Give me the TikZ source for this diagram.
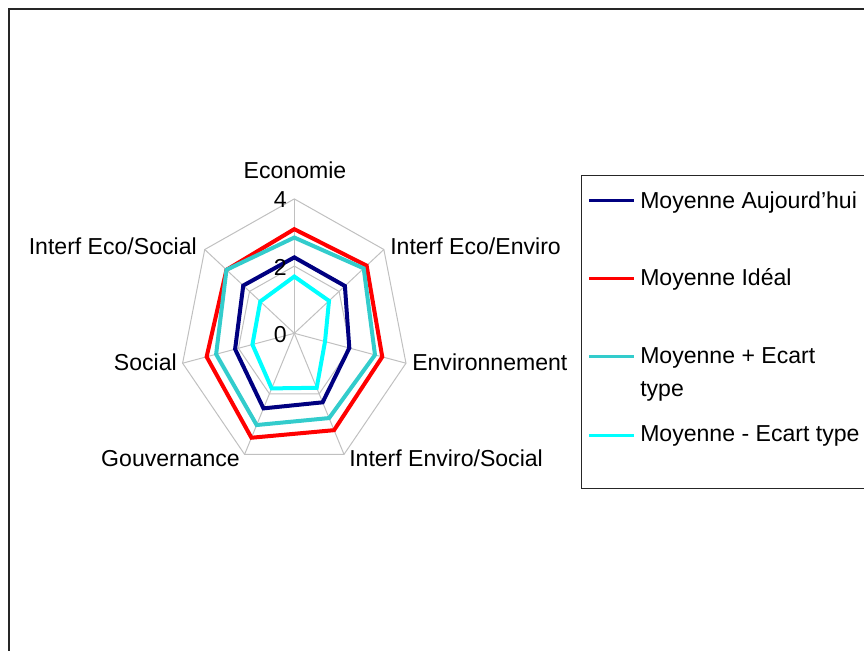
\documentclass[tikz,border=0pt]{standalone}
\usepackage{fontspec}
\setmainfont{Liberation Sans}
\definecolor{navyc}{RGB}{0,0,128}
\definecolor{redc}{RGB}{255,0,0}
\definecolor{tealc}{RGB}{51,204,204}
\definecolor{cyanc}{RGB}{0,255,255}
\definecolor{gridgray}{RGB}{192,192,192}
\begin{document}
\begin{tikzpicture}[x=0.75pt,y=-0.75pt,
  lbl/.style={font=\fontsize{17.3}{20}\selectfont, inner sep=0pt, text height=0.716em, text depth=0pt, yshift=-3pt},
  gridline/.style={draw=gridgray, line width=0.75pt},
  ser/.style={line width=3pt, line join=miter},
  legline/.style={line width=2.25pt}]
\useasboundingbox (0,0) rectangle (864,650);
% outer frame
\draw[line width=1.5pt, draw=black!85] (8.5,700) -- (8.5,8.5) -- (900,8.5);
% radar chart
\begin{scope}[shift={(294.3,333.3)}]
\begin{scope}[x=21.48pt, y=-25.2pt]
  \def\aA{-90}\def\aB{-38.571}\def\aC{12.857}\def\aD{64.286}\def\aE{115.714}\def\aF{167.143}\def\aG{218.571}
  \foreach \r in {2,4}
    \draw[gridline] (\aA:\r) -- (\aB:\r) -- (\aC:\r) -- (\aD:\r) -- (\aE:\r) -- (\aF:\r) -- (\aG:\r) -- cycle;
  \foreach \a in {\aA,\aB,\aC,\aD,\aE,\aF,\aG}
    \draw[gridline] (0,0) -- (\a:4);
  % series
  \draw[ser, navyc] (\aA:2.26) -- (\aB:2.26) -- (\aC:1.97) -- (\aD:2.28) -- (\aE:2.48) -- (\aF:2.12) -- (\aG:2.28) -- cycle;
  \draw[ser, redc] (\aA:3.1) -- (\aB:3.23) -- (\aC:3.15) -- (\aD:3.2) -- (\aE:3.45) -- (\aF:3.14) -- (\aG:3.03) -- cycle;
  \draw[ser, tealc] (\aA:2.85) -- (\aB:3.1) -- (\aC:2.89) -- (\aD:2.8) -- (\aE:3.03) -- (\aF:2.8) -- (\aG:3.03) -- cycle;
  \draw[ser, cyanc] (\aA:1.69) -- (\aB:1.55) -- (\aC:1.1) -- (\aD:1.8) -- (\aE:1.82) -- (\aF:1.5) -- (\aG:1.52) -- cycle;
\end{scope}
\end{scope}
% axis value labels
\node[lbl, anchor=east] (v4) at (287,199) {4};
\node[lbl, anchor=east] (v2) at (287,266.5) {2};
\node[lbl, anchor=east] (v0) at (287,333.3) {0};
% category labels
\node[lbl] (eco) at (295,170) {Economie};
\node[lbl, anchor=west] (ecoenv) at (390,246) {Interf Eco/Enviro};
\node[lbl, anchor=west] (env) at (412,362) {Environnement};
\node[lbl, anchor=west] (envsoc) at (349,458) {Interf Enviro/Social};
\node[lbl, anchor=east] (gouv) at (240,458) {Gouvernance};
\node[lbl, anchor=east] (soc) at (177,362) {Social};
\node[lbl, anchor=east] (ecosoc) at (197,246) {Interf Eco/Social};
% legend
\draw[line width=0.75pt, draw=black!85] (581.7,175) rectangle (900,488);
\draw[legline, navyc] (589,200.7) -- (634,200.7);
\draw[legline, redc] (589,278.3) -- (634,278.3);
\draw[legline, tealc] (589,356.7) -- (634,356.7);
\draw[legline, cyanc] (589,435) -- (634,435);
\node[lbl, anchor=west] (l1) at (640,200) {Moyenne Aujourd\char"27 hui};
\node[lbl, anchor=west] (l2) at (640,277) {Moyenne Idéal};
\node[lbl, anchor=west] (l3a) at (640,355) {Moyenne + Ecart};
\node[lbl, anchor=west] (l3b) at (640,388) {type};
\node[lbl, anchor=west] (l4) at (640,433) {Moyenne - Ecart type};
\end{tikzpicture}
\end{document}
